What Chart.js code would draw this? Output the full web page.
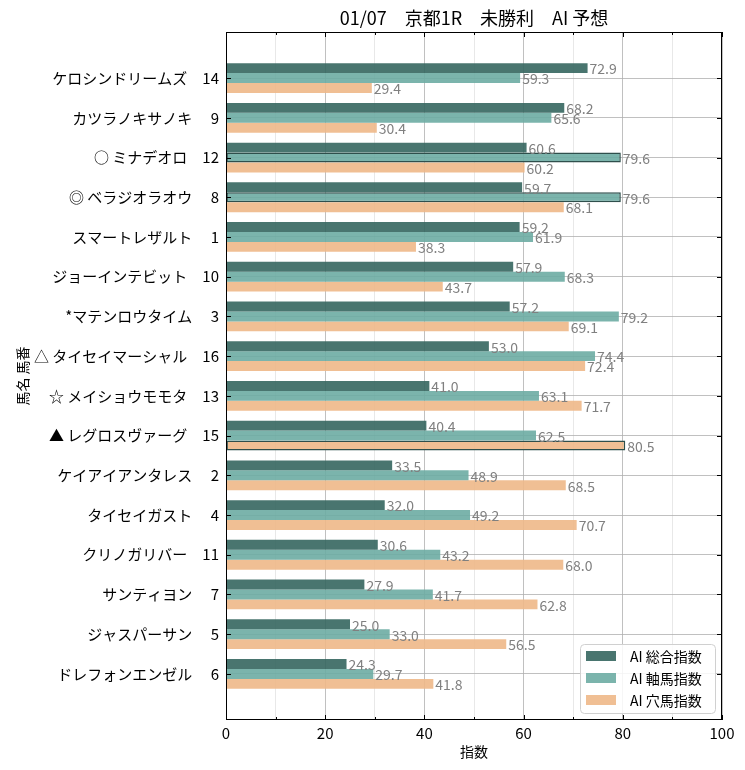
<!DOCTYPE html>
<html>
<head>
<meta charset="utf-8">
<script src="https://cdn.jsdelivr.net/npm/chart.js@4"></script>
<style>
  body { margin: 0; background: #fff; }
</style>
</head>
<body>
<canvas id="indexchart" width="745" height="770"></canvas>
<script>
// horses, top row first
const horseNames = ['ケロシンドリームズ', 'カツラノキサノキ', '○ ミナデオロ', '◎ ベラジオラオウ', 'スマートレザルト',
    'ジョーインテビット', '*マテンロウタイム', '△ タイセイマーシャル', '☆ メイショウモモタ', '▲ レグロスヴァーグ',
    'ケイアイアンタレス', 'タイセイガスト', 'クリノガリバー', 'サンティヨン', 'ジャスパーサン', 'ドレフォンエンゼル'];
const horseNumbers = [14, 9, 12, 8, 1, 10, 3, 16, 13, 15, 2, 4, 11, 7, 5, 6];

const seriesNames = ['AI 総合指数', 'AI 軸馬指数', 'AI 穴馬指数'];
const sogoValues = [72.9, 68.2, 60.6, 59.7, 59.2, 57.9, 57.2, 53.0, 41.0, 40.4, 33.5, 32.0, 30.6, 27.9, 25.0, 24.3];
const jikuValues = [59.3, 65.6, 79.6, 79.6, 61.9, 68.3, 79.2, 74.4, 63.1, 62.5, 48.9, 49.2, 43.2, 41.7, 33.0, 29.7];
const anaValues  = [29.4, 30.4, 60.2, 68.1, 38.3, 43.7, 69.1, 72.4, 71.7, 80.5, 68.5, 70.7, 68.0, 62.8, 56.5, 41.8];

const xTickValues = [0, 20, 40, 60, 80, 100];

const seriesColors = ['rgba(53, 102, 95, 0.9)', 'rgba(109, 172, 163, 0.9)', 'rgba(238, 184, 136, 0.9)'];
const highlightColor = '#2f4f4c';

Chart.defaults.font.family = '"Noto Sans CJK JP", sans-serif';
Chart.defaults.color = '#000';

function makeDataset(label, values, color, outlineMax) {
    const maxVal = Math.max(...values);
    return {
        label: label,
        data: values.map((v, i) => ({ x: v, y: i })),
        backgroundColor: color,
        borderColor: highlightColor,
        borderWidth: ctx => (outlineMax && ctx.raw && ctx.raw.x === maxVal) ? 1.5 : 0,
        borderSkipped: false,
        categoryPercentage: 0.75,
        barPercentage: 1.0
    };
}

// value labels, frame, inward ticks and the legend box
const decorPlugin = {
    id: 'decor',
    afterDatasetsDraw(chart) {
        const ctx = chart.ctx;
        ctx.save();
        ctx.font = '14px "Noto Sans CJK JP"';
        ctx.fillStyle = '#808080';
        ctx.textBaseline = 'middle';
        ctx.textAlign = 'left';
        chart.data.datasets.forEach((ds, di) => {
            chart.getDatasetMeta(di).data.forEach((bar, i) => {
                ctx.fillText(ds.data[i].x.toFixed(1), bar.x + 2, bar.y + 1);
            });
        });
        ctx.restore();
    },
    afterDraw(chart) {
        const { ctx, chartArea: a, scales: { x, y } } = chart;
        ctx.save();
        ctx.strokeStyle = '#000';
        ctx.lineWidth = 1;
        ctx.strokeRect(Math.round(a.left) + 0.5, Math.round(a.top) + 0.5,
            Math.round(a.right - a.left) - 1, Math.round(a.bottom - a.top) - 1);

        ctx.beginPath();
        for (let v = 0; v <= 100; v += 10) {
            const px = Math.round(x.getPixelForValue(v)) + 0.5;
            const len = v % 20 === 0 ? 5 : 3;
            ctx.moveTo(px, a.bottom); ctx.lineTo(px, a.bottom - len);
            ctx.moveTo(px, a.top); ctx.lineTo(px, a.top + len);
        }
        horseNames.forEach((_, i) => {
            const py = Math.round(y.getPixelForValue(i)) + 0.5;
            ctx.moveTo(a.left, py); ctx.lineTo(a.left + 5, py);
            ctx.moveTo(a.right, py); ctx.lineTo(a.right - 5, py);
        });
        ctx.stroke();

        // legend, lower right inside the plot
        const boxW = 135, boxH = 69;
        const bx = a.right - 7 - boxW, by = a.bottom - 7 - boxH;
        ctx.beginPath();
        ctx.roundRect(bx + 0.5, by + 0.5, boxW, boxH, 4);
        ctx.fillStyle = 'rgba(255,255,255,0.85)';
        ctx.fill();
        ctx.strokeStyle = '#d0d0d0';
        ctx.stroke();
        ctx.font = '14px "Noto Sans CJK JP"';
        ctx.textBaseline = 'middle';
        seriesNames.forEach((name, k) => {
            const cy = by + 12 + k * 22;
            ctx.fillStyle = seriesColors[k];
            ctx.fillRect(bx + 6, cy - 5, 30, 10);
            ctx.fillStyle = '#000';
            ctx.fillText(name, bx + 50, cy + 1);
        });
        ctx.restore();
    }
};

const chartCanvas = document.getElementById('indexchart');
new Chart(chartCanvas.getContext('2d'), {
    type: 'bar',
    data: {
        datasets: [
            makeDataset(seriesNames[0], sogoValues, seriesColors[0], false),
            makeDataset(seriesNames[1], jikuValues, seriesColors[1], true),
            makeDataset(seriesNames[2], anaValues, seriesColors[2], true)
        ]
    },
    options: {
        indexAxis: 'y',
        responsive: false,
        animation: false,
        events: [],
        layout: { padding: { left: 10, right: 23, top: 0, bottom: 4 } },
        plugins: {
            legend: { display: false },
            tooltip: { enabled: false },
            title: {
                display: true,
                fullSize: false,
                text: '01/07　京都1R　未勝利　AI 予想',
                color: '#000',
                font: { size: 18, weight: 'normal' },
                padding: { top: 7, bottom: 3.4 }
            }
        },
        scales: {
            x: {
                type: 'linear',
                min: 0,
                max: 100,
                offset: false,
                afterFit: s => { s.height = 46; },
                afterBuildTicks: s => { s.ticks = [0, 10, 20, 30, 40, 50, 60, 70, 80, 90, 100].map(v => ({ value: v })); },
                ticks: {
                    autoSkip: false,
                    padding: 4,
                    font: { size: 15 },
                    callback: v => xTickValues.includes(v) ? String(v) : ''
                },
                grid: {
                    drawTicks: false,
                    offset: false,
                    lineWidth: 0.8,
                    color: c => (c.tick && c.tick.value % 20 === 0) ? '#b0b0b0' : '#e2e2e2'
                },
                border: { display: false },
                title: {
                    display: true,
                    text: '指数',
                    font: { size: 14 },
                    padding: { top: 0, bottom: 6 }
                }
            },
            y: {
                type: 'linear',
                reverse: true,
                offset: false,
                min: -1.16,
                max: 16.16,
                afterFit: s => { s.width = 216; },
                afterBuildTicks: s => { s.ticks = horseNames.map((_, i) => ({ value: i })); },
                ticks: {
                    autoSkip: false,
                    padding: 7,
                    font: { size: 15 },
                    callback: v => horseNames[v] + '　' + String(horseNumbers[v]).padStart(2, ' ')
                },
                grid: { drawTicks: false, offset: false, lineWidth: 0.8, color: '#b0b0b0' },
                border: { display: false },
                title: {
                    display: true,
                    text: '馬名 馬番',
                    font: { size: 14 },
                    padding: { top: 4, bottom: 0 }
                }
            }
        }
    },
    plugins: [decorPlugin]
});
</script>
</body>
</html>
